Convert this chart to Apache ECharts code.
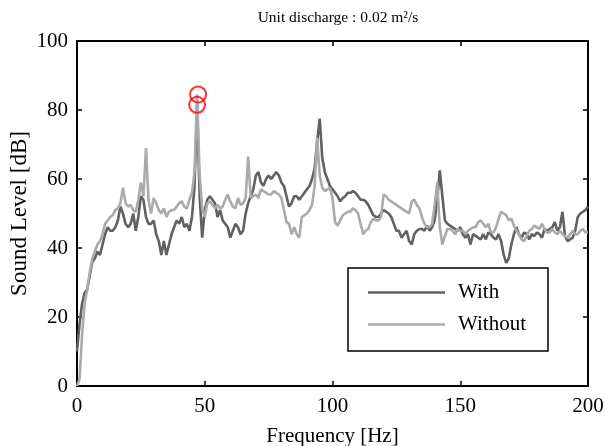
<!DOCTYPE html>
<html>
<head>
<meta charset="utf-8">
<script src="https://cdn.jsdelivr.net/npm/echarts@6/dist/echarts.min.js"></script>
<style>
html,body{margin:0;padding:0;background:#fff;}
#c{width:605px;height:446px;}
</style>
</head>
<body>
<div id="c"></div>
<script>
// Frequency grid [Hz]
const freq = [0,1,2,3,4,5,6,7,8,9,10,11,12,13,14,15,16,17,18,19,20,21,22,23,24,25,26,27,28,29,30,31,32,33,34,35,36,37,38,39,40,41,42,43,44,45,46,47,48,49,50,51,52,53,54,55,56,57,58,59,60,61,62,63,64,65,66,67,68,69,70,71,72,73,74,75,76,77,78,79,80,81,82,83,84,85,86,87,88,89,90,91,92,93,94,95,96,97,98,99,100,101,102,103,104,105,106,107,108,109,110,111,112,113,114,115,116,117,118,119,120,121,122,123,124,125,126,127,128,129,130,131,132,133,134,135,136,137,138,139,140,141,142,143,144,145,146,147,148,149,150,151,152,153,154,155,156,157,158,159,160,161,162,163,164,165,166,167,168,169,170,171,172,173,174,175,176,177,178,179,180,181,182,183,184,185,186,187,188,189,190,191,192,193,194,195,196,197,198,199,200];

// Sound level "With" [dB]
const withVals = [10,18,24,27,28,32,36,37,39,38,41,44,46,45,45,46,48,52,50,47,46,47,50,45,49,55,54,49,47,47,48,44,42,38,42,38,41,44,46,48,47,49,46,47,45,49,58,81.5,55,43,51,54,55,54,53,49,51,48,47,46,43,45,47,46,44,45,50,53,55,57,61,62,59,58,60,61,60,61,62,61,59,58,55,52,53,55,55,54,55,56,57,58,60,63,71,77.5,66,62,60,58,57,56,55,53.5,54.5,55,56,56,56.5,56,55,54,54,53.5,52.5,51,49.5,49,49,50,51,50.5,50,49,47,45,45,43,44,45,42,41,44,45,45.5,45.5,45,46.5,45,46,48,54,62.5,55,48,47,46.5,46,45.5,45,46,44,43,44,41,44,43.5,43,42.5,44,42.5,44.5,44,43,42.5,44,42,38,35.7,37,41,44,46,44,43,44.5,44,42.5,44,43.5,44.5,44,43,45.5,45,45.5,46,47.5,45,46,50.5,43.5,42,42.5,43,45,49,50,50.5,51,52];

// Sound level "Without" [dB]
const withoutVals = [0,2,15,24,28,33,37,39,41,42,44,47,48,49,49.5,51,51.5,53,57.5,53,52,52.5,51,50.5,54,59,55,69,54,50,54.5,53,51,50,51.5,49,50.5,51,51,52,53,53.5,52,51.5,54,56,62,84.5,61,51.5,49,53,53.5,52.5,51.5,52.5,51.5,52,54,55.5,53.5,52,51.5,54.5,52.5,53,54.5,66.5,54.5,55,55.5,54.5,57,56.5,56,55.5,55.5,56.5,56,55.5,54.5,51,47.5,47,44,46,44,43,49,49.5,50,51,52.5,58,72,61,57.5,56.5,57,57.5,54.5,47.5,46.5,48,49.5,50,50.5,50.5,51.5,51,50,47,44,45,45.5,47.5,48.5,48,48,49,55.5,55,54,53.5,53,52.5,52,51.5,51,50.5,50,53.5,54,52.5,51.5,49,47,46,46,47,52.5,59,46,41,43.5,45.5,45.5,45,44,45.5,45,45,44,45,45.5,46,46,47.5,48,47,46,47,44.5,44.5,46,48.5,50.5,50,49.5,48,48.5,46.5,45,44,42.5,42,43.5,45,45.5,46.5,46,45.5,47,45.5,44.5,44.5,45.5,44.5,44,45,44,43.5,43,44,45,44,44,45,45.5,44.5,44.5];

// Highlighted peaks (red circles)
const peakFreq = [47.4, 47.0];
const peakVals = [84.5, 81.5];

const xTicks = [0, 50, 100, 150, 200];
const yTicks = [0, 20, 40, 60, 80, 100];

const FONT = '"Liberation Serif", "Times New Roman", serif';

const withData = freq.map((f, i) => [f, withVals[i]]);
const withoutData = freq.map((f, i) => [f, withoutVals[i]]);
const peakData = peakFreq.map((f, i) => [f, peakVals[i]]);

const chart = echarts.init(document.getElementById('c'), null, {renderer: 'canvas'});

const axisLine = {show: true, onZero: false, lineStyle: {color: '#000', width: 2}};
const axisTick = {show: true, inside: true, length: 5, lineStyle: {color: '#000', width: 1.5}};

chart.setOption({
  animation: false,
  backgroundColor: '#fff',
  title: {
    text: 'Unit discharge : 0.02 m²/s',
    left: 333, top: 5, textAlign: 'center',
    textStyle: {fontFamily: FONT, fontSize: 15.5, fontWeight: 'normal', color: '#000'}
  },
  grid: {left: 77, right: 17, top: 41, bottom: 60, containLabel: false, outerBoundsMode: 'none'},
  legend: {
    data: ['With', 'Without'],
    orient: 'vertical',
    left: 348, top: 268,
    padding: [14, 22, 16, 20],
    itemWidth: 77, itemHeight: 14, itemGap: 11,
    backgroundColor: '#fff',
    borderColor: '#000', borderWidth: 1.5,
    textStyle: {fontFamily: FONT, fontSize: 21, color: '#000', padding: [0, 0, 0, 8]},
    icon: 'path://M0,5.75 L77,5.75 L77,8.25 L0,8.25 Z'
  },
  xAxis: [{
    type: 'value', min: 0, max: 200, interval: 50,
    name: 'Frequency [Hz]', nameLocation: 'middle', nameGap: 40, nameMoveOverlap: false,
    nameTextStyle: {fontFamily: FONT, fontSize: 21, color: '#000'},
    axisLine: axisLine, axisTick: axisTick,
    axisLabel: {fontFamily: FONT, fontSize: 21, color: '#000', margin: 10,
      formatter: v => xTicks.includes(v) ? String(v) : ''},
    splitLine: {show: false}
  }, {
    type: 'value', min: 0, max: 200, interval: 50, position: 'top',
    axisLine: axisLine, axisTick: axisTick, axisLabel: {show: false}, splitLine: {show: false}
  }],
  yAxis: [{
    type: 'value', min: 0, max: 100, interval: 20,
    name: 'Sound Level [dB]', nameLocation: 'middle', nameGap: 46, nameRotate: 90, nameMoveOverlap: false,
    nameTextStyle: {fontFamily: FONT, fontSize: 23, color: '#000'},
    axisLine: axisLine, axisTick: axisTick,
    axisLabel: {fontFamily: FONT, fontSize: 21, color: '#000', margin: 9,
      formatter: v => yTicks.includes(v) ? String(v) : ''},
    splitLine: {show: false}
  }, {
    type: 'value', min: 0, max: 100, interval: 20, position: 'right',
    axisLine: axisLine, axisTick: axisTick, axisLabel: {show: false}, splitLine: {show: false}
  }],
  series: [{
    name: 'With', type: 'line', data: withData, symbol: 'none', showSymbol: false,
    color: '#616161', lineStyle: {color: '#616161', width: 2.6}, z: 2
  }, {
    name: 'Without', type: 'line', data: withoutData, symbol: 'none', showSymbol: false,
    color: '#aaaaaa', lineStyle: {color: '#aaaaaa', width: 2.6}, z: 3
  }, {
    name: 'peaks', type: 'scatter', data: peakData,
    symbol: 'circle', symbolSize: 16,
    itemStyle: {color: 'rgba(0,0,0,0)', borderColor: '#ff0000', borderWidth: 2}, z: 4
  }]
});
</script>
</body>
</html>
